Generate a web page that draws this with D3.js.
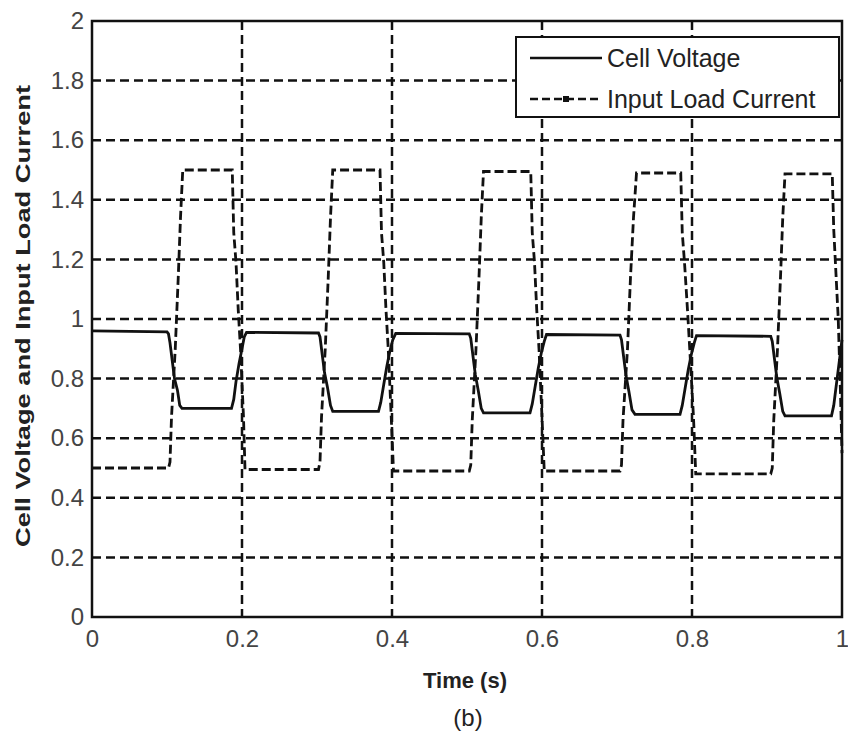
<!DOCTYPE html>
<html>
<head>
<meta charset="utf-8">
<script src="https://cdn.jsdelivr.net/npm/d3@7"></script>
<style>
  body { margin: 0; background: #fff; }
</style>
</head>
<body>
<div id="chart"></div>
<script>
// values
var voltageTime = [0, 0.1, 0.102, 0.104, 0.107, 0.110, 0.114, 0.117, 0.120, 0.186, 0.189, 0.192, 0.196, 0.200, 0.203, 0.206,
    0.302, 0.304, 0.307, 0.310, 0.314, 0.318, 0.321, 0.382, 0.385, 0.389, 0.393, 0.397, 0.401, 0.405,
    0.503, 0.505, 0.508, 0.511, 0.515, 0.519, 0.522, 0.584, 0.587, 0.591, 0.595, 0.599, 0.603, 0.606,
    0.704, 0.706, 0.709, 0.712, 0.716, 0.720, 0.724, 0.784, 0.787, 0.791, 0.795, 0.799, 0.803, 0.806,
    0.905, 0.907, 0.910, 0.913, 0.917, 0.921, 0.924, 0.986, 0.989, 0.992, 0.995, 0.998, 1.0];
var voltage = [0.96, 0.957, 0.95, 0.92, 0.86, 0.80, 0.76, 0.71, 0.70, 0.70, 0.73, 0.79, 0.85, 0.90, 0.94, 0.955,
    0.953, 0.94, 0.88, 0.82, 0.77, 0.71, 0.69, 0.69, 0.72, 0.78, 0.84, 0.89, 0.93, 0.952,
    0.95, 0.935, 0.875, 0.815, 0.76, 0.70, 0.685, 0.685, 0.715, 0.775, 0.835, 0.885, 0.925, 0.948,
    0.946, 0.93, 0.87, 0.81, 0.755, 0.695, 0.68, 0.68, 0.71, 0.77, 0.83, 0.88, 0.92, 0.944,
    0.942, 0.925, 0.865, 0.805, 0.75, 0.69, 0.675, 0.675, 0.71, 0.77, 0.83, 0.89, 0.93];

var currentTime = [0, 0.102, 0.104, 0.106, 0.111, 0.115, 0.118, 0.121, 0.187, 0.189, 0.192, 0.195, 0.198, 0.202, 0.204,
    0.302, 0.304, 0.306, 0.311, 0.315, 0.318, 0.321, 0.384, 0.386, 0.389, 0.392, 0.395, 0.399, 0.402,
    0.503, 0.505, 0.507, 0.512, 0.516, 0.519, 0.522, 0.585, 0.587, 0.590, 0.593, 0.596, 0.600, 0.603,
    0.704, 0.706, 0.708, 0.714, 0.718, 0.722, 0.726, 0.785, 0.787, 0.790, 0.794, 0.797, 0.802, 0.805,
    0.905, 0.907, 0.909, 0.914, 0.918, 0.921, 0.924, 0.987, 0.989, 0.992, 0.995, 0.998, 1.0];
var current = [0.5, 0.5, 0.52, 0.67, 0.9, 1.14, 1.34, 1.5, 1.5, 1.29, 1.19, 1.03, 0.9, 0.67, 0.495,
    0.495, 0.52, 0.67, 0.9, 1.14, 1.34, 1.5, 1.5, 1.29, 1.19, 1.03, 0.9, 0.67, 0.49,
    0.49, 0.51, 0.66, 0.9, 1.14, 1.34, 1.495, 1.495, 1.29, 1.19, 1.03, 0.9, 0.67, 0.49,
    0.49, 0.51, 0.66, 0.9, 1.14, 1.34, 1.49, 1.49, 1.29, 1.19, 1.03, 0.9, 0.67, 0.48,
    0.48, 0.5, 0.66, 0.9, 1.14, 1.34, 1.487, 1.487, 1.3, 1.15, 1.0, 0.75, 0.55];

var xTicks = [0, 0.2, 0.4, 0.6, 0.8, 1];
var yTicks = [0, 0.2, 0.4, 0.6, 0.8, 1, 1.2, 1.4, 1.6, 1.8, 2];
var seriesNames = ["Cell Voltage", "Input Load Current"];

//step 1: svg
var width = 848,
    height = 746;
var plotLeft = 92, plotRight = 842, plotTop = 21, plotBottom = 617;

var svg = d3.select("#chart")
    .append("svg")
    .attr("width", width)
    .attr("height", height);

var x = d3.scaleLinear().domain([0, 1]).range([plotLeft, plotRight]);
var y = d3.scaleLinear().domain([0, 2]).range([plotBottom, plotTop]);

//step 2: grid
svg.append("g")
    .selectAll("line")
    .data(xTicks.slice(1, -1))
    .join("line")
    .attr("x1", d => x(d)).attr("x2", d => x(d))
    .attr("y1", plotTop).attr("y2", plotBottom)
    .attr("stroke", "#111")
    .attr("stroke-width", 2.5)
    .attr("stroke-dasharray", "9,5");

svg.append("g")
    .selectAll("line")
    .data(yTicks.slice(1, -1))
    .join("line")
    .attr("x1", plotLeft).attr("x2", plotRight)
    .attr("y1", d => y(d)).attr("y2", d => y(d))
    .attr("stroke", "#111")
    .attr("stroke-width", 2.5)
    .attr("stroke-dasharray", "9,5");

//step 3: lines
var line = d3.line()
    .x(d => x(d[0]))
    .y(d => y(d[1]));

svg.append("path")
    .datum(voltageTime.map((t, i) => [t, voltage[i]]))
    .attr("d", line)
    .attr("fill", "none")
    .attr("stroke", "#111")
    .attr("stroke-width", 2.8);

svg.append("path")
    .datum(currentTime.map((t, i) => [t, current[i]]))
    .attr("d", line)
    .attr("fill", "none")
    .attr("stroke", "#111")
    .attr("stroke-width", 2.8)
    .attr("stroke-dasharray", "9,4");

//step 4: axes box and labels
svg.append("rect")
    .attr("x", plotLeft).attr("y", plotTop)
    .attr("width", plotRight - plotLeft).attr("height", plotBottom - plotTop)
    .attr("fill", "none")
    .attr("stroke", "#111")
    .attr("stroke-width", 2.5);

svg.append("g")
    .attr("transform", "translate(0," + plotBottom + ")")
    .call(d3.axisBottom(x).tickValues(xTicks).tickSize(0).tickPadding(13).tickFormat(d3.format("")));
svg.append("g")
    .attr("transform", "translate(" + plotLeft + ",0)")
    .call(d3.axisLeft(y).tickValues(yTicks).tickSize(0).tickPadding(8).tickFormat(d3.format("")));

svg.selectAll(".domain").remove();
svg.selectAll(".tick text")
    .attr("font-family", "Liberation Sans, Arial, sans-serif")
    .attr("font-size", 24)
    .attr("fill", "#444");

svg.append("text")
    .attr("x", 465).attr("y", 688)
    .attr("text-anchor", "middle")
    .attr("font-family", "Liberation Sans, Arial, sans-serif")
    .attr("font-weight", "bold")
    .attr("font-size", 22)
    .attr("fill", "#222")
    .text("Time (s)");

svg.append("text")
    .attr("transform", "translate(30,316) rotate(-90)")
    .attr("text-anchor", "middle")
    .attr("font-family", "Liberation Sans, Arial, sans-serif")
    .attr("font-weight", "bold")
    .attr("font-size", 21)
    .attr("fill", "#222")
    .attr("textLength", 462)
    .attr("lengthAdjust", "spacingAndGlyphs")
    .text("Cell Voltage and Input Load Current");

svg.append("text")
    .attr("x", 468).attr("y", 726)
    .attr("text-anchor", "middle")
    .attr("font-family", "Liberation Sans, Arial, sans-serif")
    .attr("font-size", 24)
    .attr("fill", "#222")
    .text("(b)");

//step 5: legend
var legend = svg.append("g");
legend.append("rect")
    .attr("x", 516).attr("y", 37)
    .attr("width", 323).attr("height", 80)
    .attr("fill", "#fff")
    .attr("stroke", "#111")
    .attr("stroke-width", 2);

var rows = legend.selectAll("g.row")
    .data(seriesNames)
    .join("g")
    .attr("class", "row")
    .attr("transform", (d, i) => "translate(0," + (58 + i * 41) + ")");

rows.append("line")
    .attr("x1", 530).attr("x2", 602)
    .attr("stroke", "#111")
    .attr("stroke-width", 2.5)
    .attr("stroke-dasharray", (d, i) => i == 0 ? null : "8,4");

rows.filter((d, i) => i == 1)
    .append("rect")
    .attr("x", 563).attr("y", -3)
    .attr("width", 6).attr("height", 6)
    .attr("fill", "#111");

rows.append("text")
    .attr("x", 607).attr("y", 9)
    .attr("font-family", "Liberation Sans, Arial, sans-serif")
    .attr("font-size", 25)
    .attr("fill", "#222")
    .text(d => d);
</script>
</body>
</html>
